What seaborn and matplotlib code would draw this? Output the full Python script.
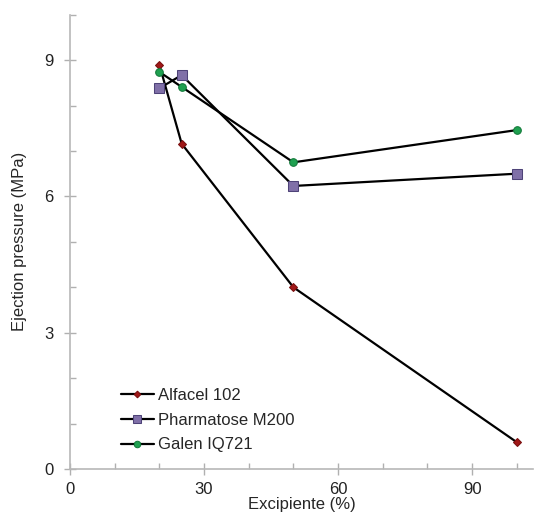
import matplotlib
matplotlib.use("Agg")
import matplotlib.pyplot as plt
from matplotlib.ticker import MultipleLocator
import pandas as pd
import seaborn as sns

excipiente = [20, 25, 50, 100]
alfacel = [8.90, 7.16, 4.00, 0.59]
pharmatose = [8.38, 8.67, 6.23, 6.50]
galen = [8.74, 8.41, 6.75, 7.46]

series = ["Alfacel 102", "Pharmatose M200", "Galen IQ721"]
df = pd.DataFrame({
    "x": excipiente * 3,
    "y": alfacel + pharmatose + galen,
    "serie": [s for s in series for _ in excipiente],
})

sns.set_style("ticks")
plt.rcParams["font.family"] = ["Liberation Sans", "DejaVu Sans"]

fig = plt.figure(figsize=(5.35, 5.15), dpi=100)
ax = fig.add_axes([0.1308, 0.0893, 0.8652, 0.8822])

styles = {
    "Alfacel 102": dict(marker="D", markersize=4, markerfacecolor="#a01818", markeredgecolor="#7a1010"),
    "Pharmatose M200": dict(marker="s", markersize=6.5, markerfacecolor="#8070a8", markeredgecolor="#4e4378"),
    "Galen IQ721": dict(marker="o", markersize=5.5, markerfacecolor="#1fa050", markeredgecolor="#137a3a"),
}
for s in series:
    sns.lineplot(data=df[df["serie"] == s], x="x", y="y", color="black", linewidth=1.6,
                 label=s, ax=ax, **styles[s])

ax.set_xlim(0, 103.6)
ax.set_ylim(0, 10)
ax.xaxis.set_major_locator(MultipleLocator(30))
ax.xaxis.set_minor_locator(MultipleLocator(10))
ax.yaxis.set_major_locator(MultipleLocator(3))
ax.yaxis.set_minor_locator(MultipleLocator(1))
ax.tick_params(which="major", direction="inout", length=8, width=1, color="#b0b0b0",
               labelsize=12, labelcolor="#222222")
ax.tick_params(which="minor", direction="in", length=4, width=1, color="#b0b0b0")
ax.tick_params(axis="x", pad=5)
ax.tick_params(axis="y", pad=8)
sns.despine(ax=ax)
for sp in ["left", "bottom"]:
    ax.spines[sp].set_color("#b8b8b8")
    ax.spines[sp].set_linewidth(1.2)

ax.set_xlabel("Excipiente (%)", fontsize=12, labelpad=0)
ax.set_ylabel("Ejection pressure (MPa)", fontsize=12, labelpad=12)

ax.legend(loc="lower left", bbox_to_anchor=(0.095, 0.022), frameon=False, fontsize=12,
          handlelength=2.0, handletextpad=0.25, labelspacing=0.58, borderaxespad=0,
          markerscale=0.85)

fig.savefig("out.png", dpi=100)
